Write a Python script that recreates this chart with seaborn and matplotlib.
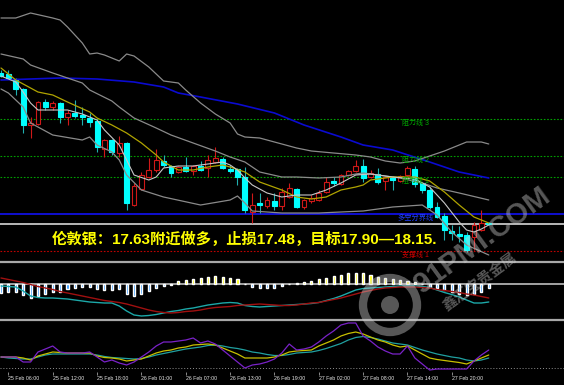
import matplotlib
matplotlib.use("Agg")
import matplotlib.pyplot as plt
import seaborn as sns
import numpy as np
from matplotlib.lines import Line2D
from matplotlib.patches import Ellipse

sns.set_style("dark")
plt.rcParams["font.family"] = ["Liberation Sans", "Noto Sans CJK SC", "DejaVu Sans"]
plt.rcParams["axes.unicode_minus"] = False

# ---------------- data ----------------
time_labels = ["25 Feb 06:00", "25 Feb 12:00", "25 Feb 18:00", "26 Feb 01:00",
               "26 Feb 07:00", "26 Feb 13:00", "26 Feb 19:00", "27 Feb 02:00",
               "27 Feb 08:00", "27 Feb 14:00", "27 Feb 20:00"]
time_label_bar = [1, 7, 13, 19, 25, 31, 37, 43, 49, 55, 61]

opens = [18.380, 18.375, 18.350, 18.300, 18.120, 18.125, 18.235, 18.210, 18.230, 18.160,
         18.180, 18.170, 18.155, 18.140, 18.000, 18.045, 17.980, 18.030, 17.720, 17.800,
         17.860, 17.895, 17.940, 17.915, 17.885, 17.910, 17.890, 17.915, 17.905, 17.935,
         17.950, 17.900, 17.900, 17.860, 17.685, 17.730, 17.715, 17.740, 17.715, 17.760,
         17.800, 17.710, 17.740, 17.745, 17.785, 17.840, 17.825, 17.870, 17.890, 17.915,
         17.860, 17.875, 17.840, 17.860, 17.840, 17.870, 17.900, 17.830, 17.795, 17.710,
         17.665, 17.590, 17.575, 17.570, 17.560, 17.595, 17.630]
highs = [18.395, 18.395, 18.355, 18.305, 18.160, 18.240, 18.250, 18.240, 18.235, 18.195,
         18.245, 18.210, 18.180, 18.150, 18.050, 18.050, 18.065, 18.035, 17.830, 17.885,
         17.955, 18.000, 17.970, 17.920, 17.915, 17.960, 17.920, 17.940, 17.970, 18.010,
         17.960, 17.920, 17.905, 17.910, 17.780, 17.780, 17.760, 17.780, 17.805, 17.830,
         17.805, 17.750, 17.770, 17.795, 17.860, 17.860, 17.875, 17.895, 17.945, 17.950,
         17.895, 17.905, 17.865, 17.865, 17.870, 17.915, 17.915, 17.835, 17.810, 17.735,
         17.680, 17.620, 17.615, 17.585, 17.635, 17.695, 17.635]
lows = [18.360, 18.350, 18.270, 18.080, 18.055, 18.120, 18.195, 18.195, 18.130, 18.120,
        18.155, 18.120, 18.110, 17.985, 17.960, 17.970, 17.960, 17.695, 17.715, 17.795,
        17.855, 17.885, 17.910, 17.860, 17.880, 17.885, 17.870, 17.890, 17.860, 17.930,
        17.900, 17.880, 17.820, 17.680, 17.630, 17.680, 17.705, 17.695, 17.695, 17.755,
        17.705, 17.700, 17.730, 17.740, 17.780, 17.815, 17.820, 17.865, 17.885, 17.835,
        17.855, 17.825, 17.795, 17.795, 17.835, 17.865, 17.810, 17.780, 17.700, 17.655,
        17.545, 17.545, 17.535, 17.485, 17.495, 17.590, 17.620]
closes = [18.365, 18.355, 18.300, 18.120, 18.130, 18.235, 18.210, 18.230, 18.160, 18.180,
          18.165, 18.160, 18.135, 18.010, 18.045, 17.985, 18.030, 17.730, 17.815, 17.870,
          17.895, 17.945, 17.920, 17.880, 17.910, 17.890, 17.915, 17.895, 17.945, 17.955,
          17.905, 17.890, 17.860, 17.695, 17.720, 17.720, 17.745, 17.715, 17.785, 17.805,
          17.710, 17.745, 17.755, 17.780, 17.835, 17.830, 17.870, 17.890, 17.915, 17.855,
          17.880, 17.835, 17.860, 17.845, 17.865, 17.905, 17.825, 17.795, 17.710, 17.660,
          17.595, 17.580, 17.565, 17.495, 17.620, 17.630, 17.625]

# Bollinger-type envelope (sampled at bar numbers)
upper_bar = [0, 2, 4, 7, 8, 9, 11, 12, 13, 14, 16, 17, 18, 20, 22, 24, 25, 27, 29, 31, 32, 33,
             35, 37, 40, 42, 45, 48, 50, 52, 54, 56, 58, 60, 62, 63, 65, 66]
upper_val = [18.655, 18.655, 18.680, 18.655, 18.645, 18.610, 18.530, 18.475, 18.480, 18.470,
             18.440, 18.475, 18.465, 18.410, 18.340, 18.330, 18.295, 18.230, 18.175, 18.130,
             18.075, 18.060, 18.055, 18.035, 18.005, 17.990, 17.980, 17.970, 17.960, 17.940,
             17.930, 17.940, 17.965, 17.990, 18.020, 18.035, 18.035, 18.025]
middle_bar = [0, 3, 4, 7, 9, 11, 12, 15, 16, 18, 21, 23, 26, 29, 31, 33, 35, 38, 40, 43, 46,
              48, 49, 51, 54, 57, 59, 62, 66]
middle_val = [18.475, 18.450, 18.420, 18.380, 18.355, 18.330, 18.295, 18.240, 18.210, 18.155,
              18.105, 18.070, 18.030, 17.990, 17.960, 17.935, 17.885, 17.860, 17.860, 17.855,
              17.860, 17.875, 17.880, 17.870, 17.855, 17.830, 17.805, 17.780, 17.745]
lower_bar = [0, 1, 3, 4, 7, 11, 12, 13, 15, 16, 17, 19, 22, 27, 31, 32, 33, 34, 38, 43, 49,
             53, 57, 59, 61, 63, 66]
lower_val = [18.300, 18.280, 18.210, 18.130, 18.070, 18.045, 18.060, 18.020, 17.985, 17.945,
             17.870, 17.795, 17.760, 17.720, 17.745, 17.765, 17.730, 17.690, 17.680, 17.680,
             17.690, 17.710, 17.720, 17.670, 17.585, 17.520, 17.470]
fast_bar = [0, 2, 3, 4, 5, 7, 9, 11, 13, 14, 16, 17, 18, 20, 21, 22, 24, 26, 28, 30, 31, 32,
            33, 34, 36, 38, 40, 42, 44, 46, 48, 50, 53, 56, 58, 60, 62, 63, 64, 65, 66]
fast_val = [18.365, 18.335, 18.285, 18.230, 18.195, 18.195, 18.195, 18.175, 18.145, 18.095,
            18.020, 17.945, 17.870, 17.845, 17.860, 17.905, 17.915, 17.915, 17.925, 17.935,
            17.920, 17.895, 17.855, 17.820, 17.780, 17.760, 17.770, 17.770, 17.795, 17.830,
            17.870, 17.875, 17.860, 17.850, 17.810, 17.730, 17.635, 17.595, 17.585, 17.600,
            17.620]
yellow_bar = [0, 2, 5, 7, 9, 12, 13, 15, 17, 19, 21, 22, 24, 26, 28, 30, 31, 33, 35, 38, 40,
              42, 44, 46, 48, 49, 50, 53, 56, 58, 60, 62, 64, 66]
yellow_val = [18.405, 18.345, 18.285, 18.270, 18.235, 18.185, 18.155, 18.120, 18.080, 18.030,
              17.970, 17.935, 17.895, 17.895, 17.910, 17.920, 17.910, 17.885, 17.835, 17.795,
              17.760, 17.750, 17.760, 17.795, 17.810, 17.820, 17.845, 17.860, 17.860, 17.840,
              17.785, 17.720, 17.660, 17.630]
blue_bar = [0, 4, 8, 13, 18, 22, 24, 27, 32, 37, 41, 46, 49, 53, 58, 62, 66]
blue_val = [18.345, 18.350, 18.355, 18.350, 18.335, 18.310, 18.280, 18.260, 18.225, 18.180,
            18.120, 18.060, 18.020, 17.995, 17.935, 17.885, 17.855]

level_names = ["阻力线 3", "阻力线 2", "阻力线 1"]
level_prices = [18.150, 17.965, 17.860]
bull_bear_price = 17.675
support_price = 17.490
last_price = 17.625

macd_hist = [-0.018, -0.016, -0.015, -0.022, -0.028, -0.024, -0.020, -0.016, -0.016, -0.010,
             -0.008, -0.006, -0.006, -0.010, -0.012, -0.012, -0.010, -0.020, -0.024, -0.020,
             -0.014, -0.008, -0.004, -0.001, 0.006, 0.008, 0.010, 0.012, 0.014, 0.016,
             0.014, 0.012, 0.010, 0.001, -0.006, -0.008, -0.008, -0.008, -0.004, 0.001,
             0.002, 0.004, 0.006, 0.010, 0.012, 0.016, 0.018, 0.022, 0.022, 0.022,
             0.018, 0.014, 0.012, 0.010, 0.008, 0.006, 0.004, 0.001, -0.006, -0.008,
             -0.012, -0.016, -0.020, -0.022, -0.020, -0.016, -0.008]
macd_fast = [-0.004, -0.005, -0.006, -0.014, -0.024, -0.027, -0.028, -0.028, -0.029, -0.030,
             -0.032, -0.034, -0.036, -0.037, -0.038, -0.038, -0.044, -0.054, -0.062, -0.064,
             -0.063, -0.061, -0.058, -0.055, -0.053, -0.050, -0.048, -0.045, -0.042, -0.040,
             -0.038, -0.037, -0.038, -0.043, -0.045, -0.046, -0.045, -0.044, -0.043, -0.042,
             -0.041, -0.040, -0.039, -0.037, -0.033, -0.029, -0.024, -0.018, -0.012, -0.009,
             -0.008, -0.007, -0.006, -0.005, -0.004, -0.004, -0.004, -0.005, -0.007, -0.012,
             -0.017, -0.021, -0.026, -0.032, -0.038, -0.038, -0.036]
macd_slow = [0.012, 0.009, 0.006, 0.003, -0.001, -0.005, -0.008, -0.011, -0.015, -0.018,
             -0.021, -0.024, -0.027, -0.030, -0.033, -0.035, -0.037, -0.040, -0.044, -0.048,
             -0.052, -0.055, -0.057, -0.058, -0.057, -0.055, -0.054, -0.052, -0.049, -0.047,
             -0.046, -0.045, -0.043, -0.042, -0.041, -0.040, -0.041, -0.042, -0.043, -0.043,
             -0.042, -0.040, -0.038, -0.037, -0.034, -0.031, -0.028, -0.024, -0.020, -0.016,
             -0.013, -0.010, -0.008, -0.007, -0.006, -0.006, -0.006, -0.007, -0.008, -0.011,
             -0.013, -0.015, -0.017, -0.020, -0.022, -0.025, -0.028]

stoch_purple = [30, 30, 30, 20, 20, 40, 46, 52, 40, 38, 38, 38, 40, 30, 20, 24, 18, 14, 20, 30,
                40, 52, 60, 60, 62, 64, 68, 58, 62, 56, 44, 32, 20, 8, 14, 16, 20, 26, 38, 56,
                44, 46, 50, 60, 72, 82, 94, 98, 98, 72, 62, 50, 42, 36, 36, 52, 28, 16, 4, 6,
                6, 6, 6, 6, 22, 34, 44]
stoch_yellow = [30, 30, 30, 28, 24, 32, 36, 40, 39, 38, 38, 38, 38, 32, 29, 28, 26, 22, 24, 26,
                32, 38, 42, 44, 48, 50, 54, 55, 56, 54, 48, 42, 36, 28, 28, 28, 28, 30, 34, 40,
                42, 43, 44, 52, 58, 64, 72, 77, 80, 76, 70, 64, 60, 54, 50, 52, 44, 36, 28, 25,
                23, 21, 19, 16, 22, 28, 34]
stoch_teal = [30, 28, 27, 26, 26, 30, 34, 36, 36, 36, 36, 36, 36, 34, 31, 29, 28, 27, 26, 27,
              30, 34, 37, 40, 43, 46, 48, 50, 53, 54, 52, 49, 47, 44, 40, 38, 35, 33, 33, 35,
              38, 39, 40, 43, 47, 52, 57, 64, 69, 71, 69, 66, 62, 58, 56, 54, 49, 44, 40, 36,
              33, 30, 28, 24, 22, 24, 28]
stoch_level = 8

title_text = "伦敦银：17.63附近做多，止损17.48，目标17.90—18.15."

# ---------------- figure ----------------
n = len(closes)
bars = np.arange(n)
H = 385.0
W = 564.0
fig = plt.figure(figsize=(5.64, 3.85), dpi=100, facecolor="black")


def rect(t, b):
    return [0.0, 1 - b / H, 1.0, (b - t) / H]


ax = fig.add_axes(rect(0, 261))
axm = fig.add_axes(rect(263, 319))
axs = fig.add_axes(rect(321, 372))
for a in (ax, axm, axs):
    a.set_facecolor("black")
    a.set_xlim(-0.135, 76.18)
    for s in a.spines.values():
        s.set_visible(False)
    a.set_yticks([])
    a.set_xticks([])
    a.grid(False)

ax.set_ylim(17.44, 18.745)
axm.set_ylim(-0.070, 0.042)
axs.set_ylim(0, 102)

# horizontal levels
for p in level_prices:
    ax.axhline(p, color="#00a000", lw=0.8, ls=(0, (1.5, 1.5)), zorder=1)
ax.axhline(bull_bear_price, color="#1010e0", lw=1.3, zorder=1)
ax.axhline(last_price, color="#b8b8b8", lw=1.4, zorder=1)
ax.axhline(support_price, color="#c00000", lw=0.8, ls=(0, (1.5, 1.5)), zorder=1)

# candles
o = np.array(opens); c = np.array(closes); h = np.array(highs); l = np.array(lows)
bull = c >= o
lo = np.minimum(o, c); hi = np.maximum(o, c)
bh = np.maximum(hi - lo, 0.003)
wick = ["#d01818" if b else "#20b0b0" for b in bull]
ax.vlines(bars, l, lo, colors=wick, lw=0.8, zorder=2)
ax.vlines(bars, hi, h, colors=wick, lw=0.8, zorder=2)
ax.bar(bars, bh, bottom=lo, width=0.66,
       color=["black" if b else "#00ffff" for b in bull],
       edgecolor=["#d01818" if b else "#00ffff" for b in bull],
       linewidth=0.8, zorder=2.5)

# indicator lines
sns.lineplot(x=blue_bar, y=blue_val, ax=ax, color="#0a0ad0", lw=1.2, estimator=None, zorder=3)
sns.lineplot(x=upper_bar, y=upper_val, ax=ax, color="#8a8a8a", lw=0.9, estimator=None, zorder=3)
sns.lineplot(x=middle_bar, y=middle_val, ax=ax, color="#8a8a8a", lw=0.9, estimator=None, zorder=3)
sns.lineplot(x=lower_bar, y=lower_val, ax=ax, color="#8a8a8a", lw=0.9, estimator=None, zorder=3)
sns.lineplot(x=yellow_bar, y=yellow_val, ax=ax, color="#b0a400", lw=0.9, estimator=None, zorder=3)
sns.lineplot(x=fast_bar, y=fast_val, ax=ax, color="#c8c8c8", lw=0.8, estimator=None, zorder=3)

# level labels
lx = 54.3
for name, p in zip(level_names, level_prices):
    ax.text(lx, p - 0.004, name, color="#00b000", fontsize=5, ha="left", va="top", zorder=4)
ax.text(53.6, bull_bear_price - 0.004, "多空分界线", color="#2040ff", fontsize=5.2,
        ha="left", va="top", zorder=4)
ax.text(lx, support_price - 0.004, "支撑线 1", color="#d00000", fontsize=5,
        ha="left", va="top", zorder=4)

# MACD panel
axm.axhline(0, color="#b0b0b0", lw=1.3, zorder=1)
axm.bar(bars, macd_hist, width=0.28,
        color=["#ffff00" if v > 0 else "#1e90ff" for v in macd_hist], zorder=2)
sns.lineplot(x=bars, y=macd_fast, ax=axm, color="#1ca8a8", lw=1.0, estimator=None, zorder=3)
sns.lineplot(x=bars, y=macd_slow, ax=axm, color="#a01010", lw=1.0, estimator=None, zorder=3)

# Stochastic panel
axs.axhline(stoch_level, color="#909090", lw=0.7, ls=(0, (1, 2)), zorder=1)
sns.lineplot(x=bars, y=stoch_teal, ax=axs, color="#20a0a0", lw=0.9, estimator=None, zorder=3)
sns.lineplot(x=bars, y=stoch_yellow, ax=axs, color="#c8c000", lw=0.9, estimator=None, zorder=3)
sns.lineplot(x=bars, y=stoch_purple, ax=axs, color="#7a22c8", lw=0.9, estimator=None, zorder=3)

for a in (ax, axm, axs):
    a.set_xlabel("")
    a.set_ylabel("")
    a.set_yticks([])

axs.set_xticks(time_label_bar)
axs.set_xticklabels(time_labels, ha="left", fontsize=3.8, color="#e8e8e8")
axs.tick_params(axis="x", length=2, width=0.5, color="#c0c0c0", pad=1, bottom=True)

# panel separators
for ypx in (262, 320):
    fig.add_artist(Line2D([0, 1], [1 - ypx / H] * 2, color="#a8a8a8", lw=1.6))

# headline text
fig.text(52 / W, 1 - 239 / H, title_text, color="#ffff00", fontsize=11,
         fontweight="bold", ha="left", va="center", zorder=10)

# watermark
fig.text(482 / W, 1 - 240 / H, "91PMI.COM", color="#d0d0d0", alpha=0.42, fontsize=21,
         fontweight="bold", rotation=36, ha="center", va="center", zorder=11)
fig.text(480 / W, 1 - 282 / H, "鑫汇宝贵金属", color="#d0d0d0", alpha=0.42, fontsize=10.5,
         fontweight="bold", rotation=36, ha="center", va="center", zorder=11)
ring = Ellipse((390 / W, 1 - 305 / H), 54 / W, 54 / H, transform=fig.transFigure, fill=False,
               edgecolor="#d0d0d0", alpha=0.42, lw=6, zorder=11)
fig.add_artist(ring)
core = Ellipse((390 / W, 1 - 305 / H), 18 / W, 18 / H, transform=fig.transFigure,
               facecolor="#d0d0d0", edgecolor="none", alpha=0.42, zorder=11)
fig.add_artist(core)

fig.savefig("out.png", dpi=100, facecolor="black")
